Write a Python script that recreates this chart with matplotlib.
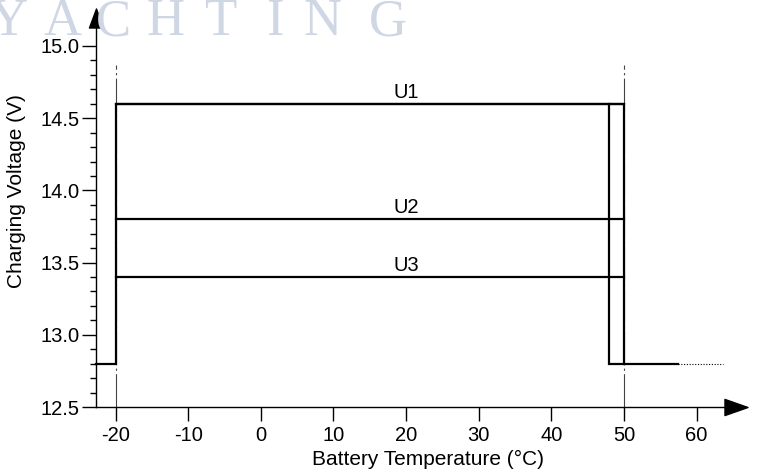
import matplotlib
matplotlib.use("Agg")
import matplotlib.pyplot as plt
import numpy as np
from matplotlib.path import Path

plt.rcParams['font.family'] = ['Liberation Sans', 'DejaVu Sans']
plt.rcParams['axes.unicode_minus'] = False

# charging window and voltage levels
t_low, t_high = -20, 50
t_cut = 48
t_solid_end, t_dot_end = 57.4, 63.6
t_min = -22.7
v_off = 12.8
level_names = ["U1", "U2", "U3"]
level_volts = [14.6, 13.8, 13.4]
x_ticks = [-20, -10, 0, 10, 20, 30, 40, 50, 60]
y_ticks = [12.5, 13.0, 13.5, 14.0, 14.5, 15.0]
watermark = "YACHTING"
watermark_x = [8, 63, 113, 165, 220, 275, 323, 388]

fig = plt.figure(figsize=(7.57, 4.72), dpi=100)
ax = fig.add_axes([96/757, 1-407/472, (748-96)/757, (407-8)/472])
xmin, xmax = t_min, 67.08
ymin, ymax = 12.5, 15.263
ax.set_xlim(xmin, xmax)
ax.set_ylim(ymin, ymax)

# watermark
for ch, px in zip(watermark, watermark_x):
    fig.text(px/757, 1-35/472, ch, ha='center', va='baseline', fontsize=38,
             family='Liberation Serif', color='#cfd6e4', zorder=0)

lw = 1.6
# cut-off outline
ax.plot([xmin, t_low, t_low, t_high, t_high], [v_off, v_off, level_volts[0], level_volts[0], v_off],
        color='black', lw=lw, solid_joinstyle='miter', clip_on=False)
ax.plot([t_cut, t_cut, t_solid_end], [level_volts[0], v_off, v_off],
        color='black', lw=lw, solid_joinstyle='miter')
ax.plot([t_solid_end, t_dot_end], [v_off, v_off], color='black', lw=0.8, ls=(0, (1, 1.5)))

for name, v in zip(level_names, level_volts):
    ax.plot([t_low, t_high], [v, v], color='black', lw=lw)
    ax.text(20, v + 0.015, name, ha='center', va='bottom', fontsize=14.5)

# temperature limits
for t in [t_low, t_high]:
    ax.plot([t, t], [ymin, 14.87], color='#444444', lw=0.8, ls=(0, (30, 3, 2, 3)), zorder=1)

# axes with arrow heads
for s in ['top', 'right']:
    ax.spines[s].set_visible(False)
ax.spines['left'].set_linewidth(1.0)
ax.spines['bottom'].set_linewidth(1.0)
ax.spines['bottom'].set_bounds(xmin, 65.5)
ax.spines['left'].set_bounds(ymin, 15.2)
tri_x = Path([(-1, -0.7), (1, 0), (-1, 0.7), (-1, -0.7)], [1, 2, 2, 79])
tri_y = Path([(-0.74, -1), (0, 1), (0.74, -1), (-0.74, -1)], [1, 2, 2, 79])
ax.plot([65.43], [ymin], marker=tri_x, ms=16.6, color='black', clip_on=False)
ax.plot([xmin], [15.197], marker=tri_y, ms=13.7, color='black', clip_on=False)

ax.set_xticks(x_ticks)
ax.set_yticks(y_ticks)
ax.set_yticklabels([f"{v:.1f}" for v in y_ticks])
ax.set_yticks(np.arange(12.6, 15.0, 0.1), minor=True)
ax.tick_params(axis='both', which='major', direction='out', length=10, width=1.0,
               labelsize=14.5, pad=2)
ax.tick_params(axis='y', which='minor', direction='out', length=4.5, width=1.0)
ax.tick_params(axis='x', pad=4)

ax.set_xlabel("Battery Temperature (°C)", fontsize=15)
ax.set_ylabel("Charging Voltage (V)", fontsize=15)
ax.xaxis.set_label_coords((428-96)/652, -(459-407)/399)
ax.yaxis.set_label_coords(-(96-17)/652, (407-191)/399)
ax.xaxis.label.set_va('center')
ax.yaxis.label.set_va('center')

fig.savefig("out.png", dpi=100)
